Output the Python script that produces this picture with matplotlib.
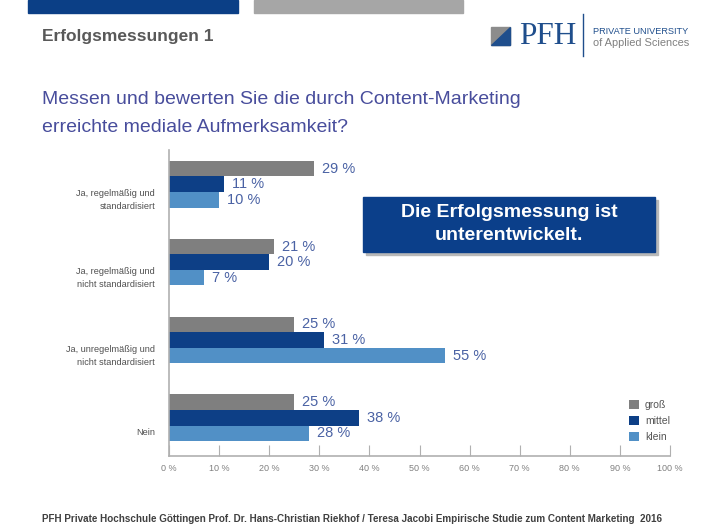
import matplotlib.pyplot as plt
import matplotlib.patches as mpatches
import numpy as np

# data
categories = ['Ja, regelmäßig und\nstandardisiert',
              'Ja, regelmäßig und\nnicht standardisiert',
              'Ja, unregelmäßig und\nnicht standardisiert',
              'Nein']
gross = [29, 21, 25, 25]
mittel = [11, 20, 31, 38]
klein = [10, 7, 55, 28]
series_names = ['groß', 'mittel', 'klein']
xticks = [0, 10, 20, 30, 40, 50, 60, 70, 80, 90, 100]

W, H = 705, 528
c_gross = '#7f7f7f'
c_mittel = '#0d3f86'
c_klein = '#5190c6'
c_val = '#4a62a4'
sans = ['Liberation Sans', 'DejaVu Sans']

def fx(px):
    return px / W

def fy(py):
    return 1 - py / H

fig = plt.figure(figsize=(W / 100, H / 100), dpi=100)

# top decoration bars
fig.patches.append(mpatches.Rectangle((fx(28), fy(13)), fx(238 - 28), 13 / H,
                                      color='#0b3f86', transform=fig.transFigure))
fig.patches.append(mpatches.Rectangle((fx(254), fy(13)), fx(463 - 254), 13 / H,
                                      color='#a6a6a6', transform=fig.transFigure))

fig.text(fx(42), fy(37), 'Erfolgsmessungen 1', fontsize=12.5, fontweight='bold',
         color='#595959', family=sans, va='center')

# logo
fig.patches.append(mpatches.Rectangle((fx(491), fy(45)), fx(19), 18 / H,
                                      color='#8c8c8c', transform=fig.transFigure))
fig.patches.append(mpatches.Polygon([(fx(491), fy(45)), (fx(510), fy(45)), (fx(510), fy(27))],
                                    closed=True, color='#1f4e8c', transform=fig.transFigure))
fig.text(fx(519), fy(37), 'PFH', fontsize=22.5, color='#1f4e8c', family=['Liberation Serif', 'DejaVu Serif'],
         va='center')
fig.add_artist(plt.Line2D([fx(583), fx(583)], [fy(14), fy(56)], color='#1f4e8c', lw=1))
fig.text(fx(593), fy(31), 'PRIVATE UNIVERSITY', fontsize=6.6, color='#1f4e8c', family=sans, va='center')
fig.text(fx(593), fy(43), 'of Applied Sciences', fontsize=7.9, color='#808080', family=sans, va='center')

# question
fig.text(fx(42), fy(100), 'Messen und bewerten Sie die durch Content-Marketing', fontsize=14,
         color='#484d9c', family=sans, va='center')
fig.text(fx(42), fy(127), 'erreichte mediale Aufmerksamkeit?', fontsize=14,
         color='#484d9c', family=sans, va='center')

# chart
ax = fig.add_axes([fx(169), fy(456), fx(670 - 169), (456 - 150) / H])
pos = np.arange(len(categories))
h = 0.2
series = [gross, mittel, klein]
colors = [c_gross, c_mittel, c_klein]
for k, (vals, col, name) in enumerate(zip(series, colors, series_names)):
    y = pos + (k - 1) * h
    ax.barh(y, vals, height=h, color=col, label=name)
    for yy, v in zip(y, vals):
        ax.text(v + 1.6, yy, f'{v} %', fontsize=10.5, color=c_val, va='center', family=sans)

ax.set_xlim(0, 100)
ax.set_ylim(len(categories) - 0.51, -0.44)
ax.set_xticks(xticks)
ax.set_xticklabels([f'{t} %' for t in xticks], family=sans, fontsize=6.5, color='#808080')
ax.tick_params(axis='x', direction='in', length=8, color='#b0b0b0', pad=6)
ax.set_yticks(pos + 0.17)
ax.set_yticklabels(categories, family=sans, fontsize=6.6, color='#505050', linespacing=1.5)
ax.tick_params(axis='y', length=0, pad=10)
for s in ['top', 'right']:
    ax.spines[s].set_visible(False)
for s in ['left', 'bottom']:
    ax.spines[s].set_color('#b0b0b0')
    ax.spines[s].set_linewidth(1.2)

leg = ax.legend(loc='upper left', bbox_to_anchor=(fx(620), fy(391)), bbox_transform=fig.transFigure,
                frameon=False, handlelength=0.9, handleheight=0.9, handletextpad=0.6,
                labelspacing=0.55, prop={'family': sans, 'size': 7.5})
for t in leg.get_texts():
    t.set_color('#555555')

# callout box
fig.patches.append(mpatches.Rectangle((fx(366), fy(255)), fx(292), 55 / H,
                                      color='#b8b8b8', transform=fig.transFigure))
fig.patches.append(mpatches.Rectangle((fx(363), fy(252)), fx(292), 55 / H,
                                      color='#0b3f8a', transform=fig.transFigure))
fig.text(fx(509), fy(213), 'Die Erfolgsmessung ist', fontsize=14, fontweight='bold', color='white',
         family=sans, ha='center', va='center')
fig.text(fx(509), fy(236), 'unterentwickelt.', fontsize=14, fontweight='bold', color='white',
         family=sans, ha='center', va='center')

fig.text(fx(42), fy(519), 'PFH Private Hochschule Göttingen Prof. Dr. Hans-Christian Riekhof / Teresa Jacobi '
         'Empirische Studie zum Content Marketing  2016', fontsize=7.1, fontweight='bold',
         color='#404040', family=sans, va='center')

fig.savefig('out.png', dpi=100)
